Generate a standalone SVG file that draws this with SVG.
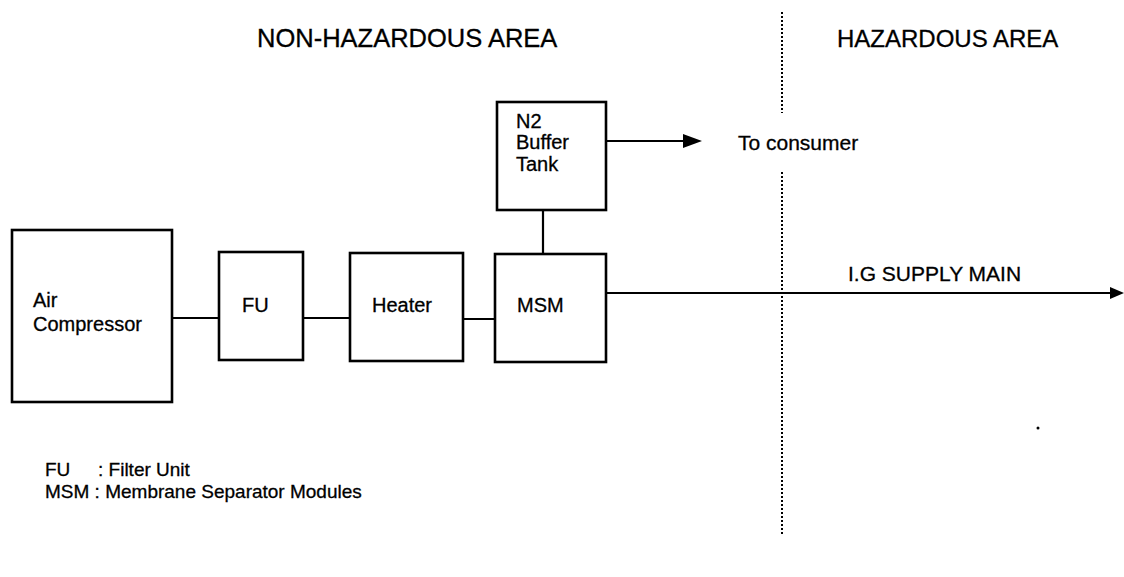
<svg xmlns="http://www.w3.org/2000/svg" width="1124" height="577" viewBox="0 0 1124 577">
<style>
.box{fill:#fff;stroke:#000;stroke-width:2.6}
.ln{stroke:#000;stroke-width:2.2;fill:none}
.dot{stroke:#000;stroke-width:2;stroke-dasharray:2 2;fill:none}
text{font-family:"Liberation Sans",Arial,sans-serif;fill:#000;stroke:#000;stroke-width:0.3}
.lbl{font-size:20px}
.big{font-size:21px}
.leg{font-size:19px}
.hd{font-size:24px}
.hd2{font-size:25.5px}
</style>
<rect width="1124" height="577" fill="#fff"/>
<g id="areas">
<text class="hd2" x="257" y="47">NON-HAZARDOUS AREA</text>
<text class="hd" x="837" y="47">HAZARDOUS AREA</text>
<path class="dot" d="M782,12 V113 M782,172 V535"/>
</g>
<g id="connectors">
<path class="ln" d="M172,318 H219 M303,318 H350 M463,319 H495 M543,210 V254"/>
<path class="ln" d="M606,141 H685"/>
<path d="M683,134 L702,141 L683,148 Z" fill="#000"/>
<path class="ln" d="M606,293 H1112"/>
<path d="M1110,287 L1124,293 L1110,299 Z" fill="#000"/>
</g>
<g id="air-compressor">
<rect class="box" x="12" y="230" width="160" height="172"/>
<text class="lbl" x="33" y="307">Air</text>
<text class="lbl" x="33" y="331">Compressor</text>
</g>
<g id="fu">
<rect class="box" x="219" y="252" width="84" height="108"/>
<text class="lbl" x="242" y="312">FU</text>
</g>
<g id="heater">
<rect class="box" x="350" y="253" width="113" height="108"/>
<text class="lbl" x="372" y="312">Heater</text>
</g>
<g id="msm">
<rect class="box" x="495" y="254" width="111" height="108"/>
<text class="lbl" x="517" y="312">MSM</text>
</g>
<g id="n2-tank">
<rect class="box" x="497" y="102" width="109" height="108"/>
<text class="lbl" x="516" y="128">N2</text>
<text class="lbl" x="516" y="149">Buffer</text>
<text class="lbl" x="516" y="171">Tank</text>
</g>
<g id="labels">
<text class="big" x="738" y="150">To consumer</text>
<text class="big" x="848" y="281">I.G SUPPLY MAIN</text>
<circle cx="1038" cy="428" r="1.5" fill="#000"/>
<text class="leg" x="45" y="476">FU</text>
<text class="leg" x="98" y="476">: Filter Unit</text>
<text class="leg" x="45" y="498">MSM : Membrane Separator Modules</text>
</g>
</svg>
